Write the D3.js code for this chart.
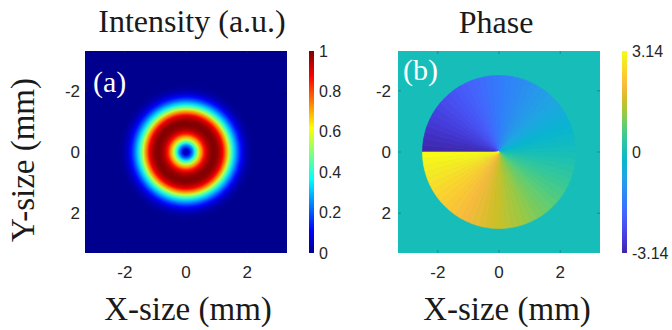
<!DOCTYPE html>
<html>
<head>
<meta charset="utf-8">
<script src="https://cdn.jsdelivr.net/npm/d3@7"></script>
<style>
  body { margin: 0; background: #fff; }
  svg { display: block; }
</style>
</head>
<body>
<div id="canvas"></div>
<script>
// radial intensity profile of the donut beam
var radiusMM = [0, 0.1, 0.2, 0.3, 0.4, 0.5, 0.6, 0.7, 0.8, 0.9, 1.0, 1.1, 1.2, 1.3, 1.4, 1.5, 1.6, 1.7, 1.8, 1.9, 2.0, 2.1, 2.2];
var intensity = [0, 0.08, 0.22, 0.40, 0.56, 0.72, 0.86, 0.94, 0.98, 1.0, 0.99, 0.95, 0.88, 0.74, 0.56, 0.42, 0.30, 0.20, 0.12, 0.06, 0.03, 0.01, 0];

// phase of each 5 degree sector (centre angles from -177.5 to 177.5 deg)
var sectorDeg = d3.range(-177.5, 180, 5);
var phase = [-3.10, -3.01, -2.92, -2.84, -2.75, -2.66, -2.57, -2.49, -2.40, -2.31, -2.23, -2.14,
  -2.05, -1.96, -1.88, -1.79, -1.70, -1.61, -1.53, -1.44, -1.35, -1.27, -1.18, -1.09,
  -1.00, -0.92, -0.83, -0.74, -0.65, -0.57, -0.48, -0.39, -0.31, -0.22, -0.13, -0.04,
  0.04, 0.13, 0.22, 0.31, 0.39, 0.48, 0.57, 0.65, 0.74, 0.83, 0.92, 1.00,
  1.09, 1.18, 1.27, 1.35, 1.44, 1.53, 1.61, 1.70, 1.79, 1.88, 1.96, 2.05,
  2.14, 2.23, 2.31, 2.40, 2.49, 2.57, 2.66, 2.75, 2.84, 2.92, 3.01, 3.10];
var phaseOutside = 0;
var phaseRadiusMM = 2.5;

var axisTicks = [-2, 0, 2];
var intensityTicks = [0, 0.2, 0.4, 0.6, 0.8, 1];
var intensityTickLabels = ["0", "0.2", "0.4", "0.6", "0.8", "1"];
var phaseTicks = [-3.14, 0, 3.14];
var phaseTickLabels = ["-3.14", "0", "3.14"];

// colormaps
var jetPos = [0, 0.111, 0.365, 0.619, 0.873, 1];
var jetCol = ["#00008f", "#0000ff", "#00ffff", "#ffff00", "#ff0000", "#800000"];
var parulaPos = [0, 4, 8, 12, 16, 20, 24, 28, 32, 36, 40, 44, 48, 52, 56, 60, 63].map(function (i) { return i / 63; });
var parulaCol = ["#3e26a8", "#4537d5", "#484df0", "#4563fd", "#327cfc", "#2b91ef", "#20a5e3", "#08b5d0",
  "#19bfb6", "#37c897", "#64cd6f", "#9dc943", "#d1bf27", "#f8ba3d", "#fccf30", "#f5e924", "#f9fb15"];

var jet = d3.scaleLinear().domain(jetPos).range(jetCol).interpolate(d3.interpolateRgb).clamp(true);
var parula = d3.scaleLinear().domain(parulaPos).range(parulaCol).interpolate(d3.interpolateRgb).clamp(true);
var intensityColor = function (v) { return jet(v); };
var phaseColor = d3.scaleLinear().domain([-3.14, 3.14]).range([0, 1]);

var width = 672, height = 330;
var svg = d3.select("#canvas").append("svg")
  .attr("width", width).attr("height", height)
  .style("font-family", "'Liberation Sans', Arial, sans-serif");
var defs = svg.append("defs");

var xL = d3.scaleLinear().domain([-3.3, 3.3]).range([85, 287]);
var yL = d3.scaleLinear().domain([-3.3, 3.3]).range([51, 253]);
var xR = d3.scaleLinear().domain([-3.3, 3.3]).range([398, 600]);
var yR = d3.scaleLinear().domain([-3.3, 3.3]).range([51, 253]);

// ---------- intensity panel ----------
var radial = defs.append("radialGradient").attr("id", "beam")
  .attr("cx", "50%").attr("cy", "50%").attr("r", "50%");
radial.selectAll("stop").data(radiusMM).enter().append("stop")
  .attr("offset", function (d) { return d / radiusMM[radiusMM.length - 1]; })
  .attr("stop-color", function (d, i) { return intensityColor(intensity[i]); });

svg.append("rect")
  .attr("x", xL(-3.3)).attr("y", yL(-3.3))
  .attr("width", xL(3.3) - xL(-3.3)).attr("height", yL(3.3) - yL(-3.3))
  .attr("fill", intensityColor(0));
svg.append("circle")
  .attr("cx", xL(0)).attr("cy", yL(0))
  .attr("r", xL(radiusMM[radiusMM.length - 1]) - xL(0))
  .attr("fill", "url(#beam)");

// ---------- phase panel ----------
svg.append("rect")
  .attr("x", xR(-3.3)).attr("y", yR(-3.3))
  .attr("width", xR(3.3) - xR(-3.3)).attr("height", yR(3.3) - yR(-3.3))
  .attr("fill", parula(phaseColor(phaseOutside)));

var R = xR(phaseRadiusMM) - xR(0);
var arc = d3.arc().innerRadius(0).outerRadius(R);
svg.append("g")
  .attr("transform", "translate(" + xR(0) + "," + yR(0) + ")")
  .selectAll("path")
  .data(sectorDeg)
  .enter()
  .append("path")
  .attr("d", function (d) {
    // screen angle from +x (clockwise, y down) -> d3 angle from 12 o'clock
    return arc({ startAngle: (d - 2.5 + 90) * Math.PI / 180, endAngle: (d + 2.5 + 90) * Math.PI / 180 });
  })
  .attr("fill", function (d, i) { return parula(phaseColor(phase[i])); })
  .attr("stroke", function (d, i) { return parula(phaseColor(phase[i])); })
  .attr("stroke-width", 0.6);

// ---------- axes ----------
function drawAxes(x, y, rightEdge) {
  var g = svg.append("g");
  var tickCol = "rgba(40,40,40,0.35)";
  axisTicks.forEach(function (t) {
    g.append("line").attr("x1", x(t)).attr("x2", x(t)).attr("y1", y(3.3)).attr("y2", y(3.3) - 3).attr("stroke", tickCol);
    g.append("line").attr("x1", x(t)).attr("x2", x(t)).attr("y1", y(-3.3)).attr("y2", y(-3.3) + 3).attr("stroke", tickCol);
    g.append("line").attr("y1", y(t)).attr("y2", y(t)).attr("x1", x(-3.3)).attr("x2", x(-3.3) + 3).attr("stroke", tickCol);
    g.append("line").attr("y1", y(t)).attr("y2", y(t)).attr("x1", x(3.3)).attr("x2", x(3.3) - 3).attr("stroke", tickCol);
  });
  g.selectAll("text.xt").data(axisTicks).enter().append("text")
    .attr("x", function (d) { return x(d); }).attr("y", 278)
    .attr("text-anchor", "middle").attr("font-size", 17).attr("fill", "#262626")
    .text(function (d) { return d; });
  g.selectAll("text.yt").data(axisTicks).enter().append("text")
    .attr("x", rightEdge).attr("y", function (d) { return y(d); }).attr("dy", "0.35em")
    .attr("text-anchor", "end").attr("font-size", 17).attr("fill", "#262626")
    .text(function (d) { return d; });
}
drawAxes(xL, yL, 80);
drawAxes(xR, yR, 391);

// ---------- colorbars ----------
function colorbar(id, x0, scale, pos, cols, ticks, labels) {
  var lg = defs.append("linearGradient").attr("id", id)
    .attr("x1", 0).attr("y1", 1).attr("x2", 0).attr("y2", 0);
  lg.selectAll("stop").data(pos).enter().append("stop")
    .attr("offset", function (d) { return d; })
    .attr("stop-color", function (d, i) { return cols[i]; });
  var cy = d3.scaleLinear().domain(scale).range([253, 51]);
  svg.append("rect").attr("x", x0).attr("y", 51).attr("width", 5).attr("height", 202)
    .attr("fill", "url(#" + id + ")");
  svg.selectAll("text." + id).data(ticks).enter().append("text")
    .attr("class", id)
    .attr("x", x0 + 10).attr("y", function (d) { return cy(d); }).attr("dy", "0.35em")
    .attr("font-size", 16).attr("fill", "#262626")
    .text(function (d, i) { return labels[i]; });
}
colorbar("cbI", 309, [0, 1], jetPos, jetCol, intensityTicks, intensityTickLabels);
colorbar("cbP", 622, [-3.14, 3.14], parulaPos, parulaCol, phaseTicks, phaseTickLabels);

// ---------- texts ----------
var serif = "'Liberation Serif', 'Times New Roman', serif";
svg.append("text").attr("x", 192).attr("y", 32).attr("text-anchor", "middle")
  .attr("font-family", serif).attr("font-size", 32).attr("fill", "#1a1a1a").text("Intensity (a.u.)");
svg.append("text").attr("x", 496).attr("y", 33).attr("text-anchor", "middle")
  .attr("font-family", serif).attr("font-size", 32).attr("fill", "#1a1a1a").text("Phase");
svg.append("text").attr("x", 188).attr("y", 320).attr("text-anchor", "middle")
  .attr("font-family", serif).attr("font-size", 33).attr("fill", "#1a1a1a").text("X-size (mm)");
svg.append("text").attr("x", 507).attr("y", 320).attr("text-anchor", "middle")
  .attr("font-family", serif).attr("font-size", 33).attr("fill", "#1a1a1a").text("X-size (mm)");
svg.append("text").attr("transform", "translate(34,160) rotate(-90)").attr("text-anchor", "middle")
  .attr("font-family", serif).attr("font-size", 33).attr("fill", "#1a1a1a").text("Y-size (mm)");
svg.append("text").attr("x", 93).attr("y", 92)
  .attr("font-family", serif).attr("font-size", 30).attr("fill", "#ffffff").text("(a)");
svg.append("text").attr("x", 403).attr("y", 80)
  .attr("font-family", serif).attr("font-size", 30).attr("fill", "#ffffff").text("(b)");
</script>
</body>
</html>
